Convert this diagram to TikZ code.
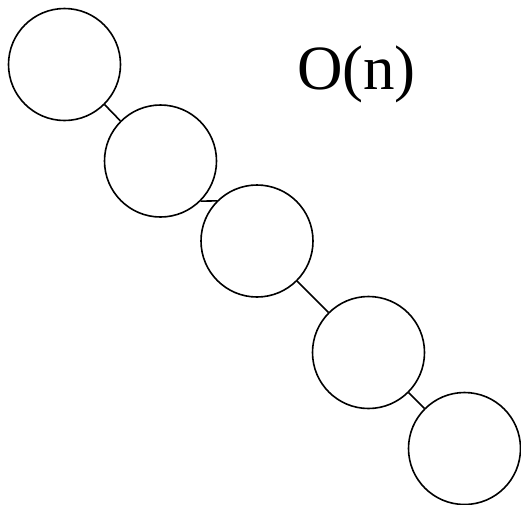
\documentclass[tikz,border=0pt]{standalone}
\usepackage{fontspec}
\setmainfont{Liberation Serif}
\begin{document}
\begin{tikzpicture}[x=1pt,y=-1pt]
    % Node styles
    \tikzset{list node/.style={circle,draw,line width=1.6pt,minimum size=112pt,inner sep=0pt}}
    \useasboundingbox (0,0) rectangle (521,504);

    % --- Chain of nodes along the diagonal ---
    \node[list node] (c1) at (64.5, 64.5) {};
    \node[list node] (c2) at (160.5, 161) {};
    \node[list node] (c3) at (257, 241) {};
    \node[list node] (c4) at (368.5, 352.5) {};
    \node[list node] (c5) at (464.5, 448.5) {};

    % --- Links between neighbours ---
    \draw[line width=1.6pt] (c1.south east) -- (c2.north west);
    \draw[line width=1.6pt] (c2.south east) -- (c3.north west);
    \draw[line width=1.6pt] (c3.south east) -- (c4.north west);
    \draw[line width=1.6pt] (c4.south east) -- (c5.north west);

    % --- Complexity label ---
    \node (cost) at (356.5, 74) {\fontsize{63}{70}\selectfont O(n)};

\end{tikzpicture}
\end{document}
